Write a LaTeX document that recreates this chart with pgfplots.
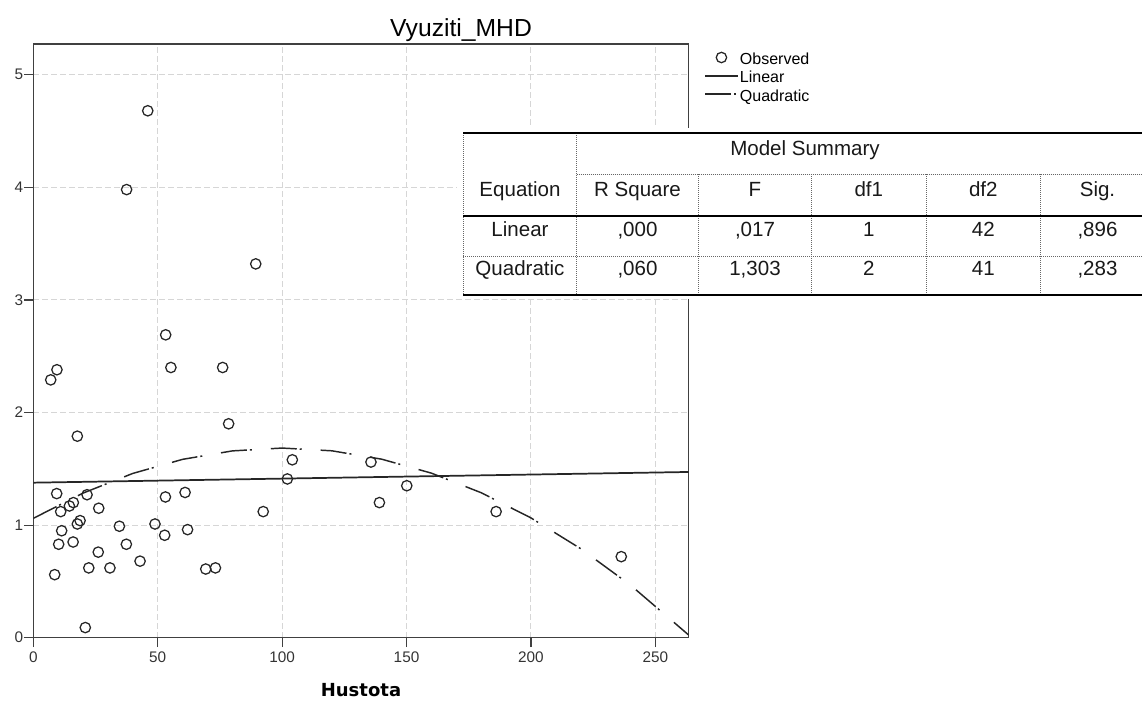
\documentclass[border=0pt]{standalone}
\usepackage{pgfplots}
\pgfplotsset{compat=1.18}
\usepackage{fontspec}
\setmainfont{Liberation Sans}
\newfontfamily\dejavu{DejaVu Sans}

\pgfplotstableread{
x y
46.0 4.68
37.5 3.98
89.4 3.32
53.2 2.69
7.0 2.29
9.5 2.38
55.3 2.40
76.1 2.40
78.5 1.90
17.7 1.79
104.1 1.58
102.1 1.41
135.7 1.56
150.1 1.35
139.1 1.20
92.4 1.12
9.4 1.28
21.6 1.27
61.0 1.29
53.1 1.25
16.1 1.20
14.5 1.17
11.0 1.12
26.3 1.15
18.8 1.04
17.7 1.01
11.4 0.95
34.6 0.99
48.9 1.01
52.8 0.91
62.0 0.96
10.2 0.83
16.0 0.85
37.4 0.83
26.1 0.76
42.9 0.68
22.3 0.62
30.8 0.62
69.3 0.61
73.2 0.62
8.6 0.56
20.9 0.09
186.0 1.12
236.3 0.72
}\observed

\begin{document}
\begin{tikzpicture}
\path[use as bounding box] (0pt,0pt) rectangle (856.5pt,-525pt);
\begin{axis}[
  at={(24.975pt,-478.275pt)}, anchor=south west,
  scale only axis, width=491.55pt, height=445.275pt,
  xmin=0, xmax=263.4, ymin=0, ymax=5.273,
  xtick={0,50,100,150,200,250}, ytick={0,1,2,3,4,5},
  tick pos=left, tick align=outside, major tick length=7pt,
  tick style={black!75, line width=0.9pt},
  axis line style={black!75, line width=1.1pt},
  grid=major,
  grid style={draw=black!16, line width=0.8pt, dash pattern=on 4.5pt off 2.25pt},
  /pgf/number format/assume math mode=true,
  ticklabel style={font=\fontsize{11.5}{13}\selectfont, text=black!80},
  yticklabel style={inner xsep=0.5pt},
  title={Vyuziti\_MHD},
  title style={at={(axis description cs:0.6526,1.0126)}, anchor=base, yshift=-6pt,
    font=\fontsize{18.5}{21}\selectfont, inner sep=0pt},
  xlabel={Hustota},
  xlabel style={at={(axis description cs:0.5,-0.0985)}, anchor=base,
    inner sep=0pt, font=\dejavu\bfseries\fontsize{13.5}{16}\selectfont},
  legend cell align=left,
  legend image code/.code={\draw[mark repeat=2,mark phase=2,#1]
    plot coordinates {(0pt,5.25pt) (12.25pt,5.25pt) (24.5pt,5.25pt)};},
  legend style={at={(axis description cs:1.0233,0.9865)}, anchor=north west,
    draw=none, fill=none, inner sep=0pt, row sep=0pt, column sep=1pt,
    font=\fontsize{12}{13}\selectfont,
    nodes={inner sep=0pt, text height=9pt, text depth=4.7pt, anchor=base west}},
]
\addplot[only marks, mark=o, mark size=3.9pt, mark options={draw=black!85, line width=0.95pt, fill=none}]
  table[x=x,y=y] {\observed};
\addlegendentry{Observed}
\addplot[black!85, line width=1.3pt] coordinates {(0,1.377) (263.4,1.472)};
\addlegendentry{Linear}
\addplot[black!85, line width=1.1pt, dash pattern=on 19.5pt off 2.25pt on 1.5pt off 14.25pt]
  coordinates {(0,1.060) (20,1.2845) (40,1.4592) (60,1.5841) (80,1.6592) (100,1.6845)
  (120,1.660) (140,1.5857) (160,1.4616) (180,1.2877) (200,1.064) (220,0.7905)
  (240,0.4672) (263.4,0.0237)};
\addlegendentry{Quadratic}
\end{axis}
\begin{scope}[x=0.75pt,y=-0.75pt]
\fill[white] (457,127.7) rectangle (1142,299);
\draw[black!60, line width=0.5pt, dash pattern=on 0.75pt off 0.75pt]
  (463,133.3)--(463,295.3)
  (576.7,133.3)--(576.7,295.3)
  (698.3,174)--(698.3,295.3)
  (811.7,174)--(811.7,295.3)
  (926,174)--(926,295.3)
  (1040.7,174)--(1040.7,295.3)
  (576.7,174)--(1142,174)
  (463,256)--(1142,256);
\draw[black, line width=1.4pt] (463,133.3)--(1142,133.3)
  (463,216)--(1142,216) (463,295.3)--(1142,295.3);
\begin{scope}[every node/.style={anchor=base, inner sep=0pt, font=\fontsize{15.4}{17}\selectfont, text=black!90}]
\node at (805,155) {Model Summary};
\node at (520,196.7) {Equation};
\node at (637.5,196.7) {R Square};
\node at (755,196.7) {F};
\node at (868.8,196.7) {df1};
\node at (983.3,196.7) {df2};
\node at (1097.5,196.7) {Sig.};
\node at (520,236.7) {Linear};
\node at (637.5,236.7) {,000};
\node at (755,236.7) {,017};
\node at (868.8,236.7) {1};
\node at (983.3,236.7) {42};
\node at (1097.5,236.7) {,896};
\node at (520,275.7) {Quadratic};
\node at (637.5,275.7) {,060};
\node at (755,275.7) {1,303};
\node at (868.8,275.7) {2};
\node at (983.3,275.7) {41};
\node at (1097.5,275.7) {,283};
\end{scope}
\end{scope}
\end{tikzpicture}
\end{document}
